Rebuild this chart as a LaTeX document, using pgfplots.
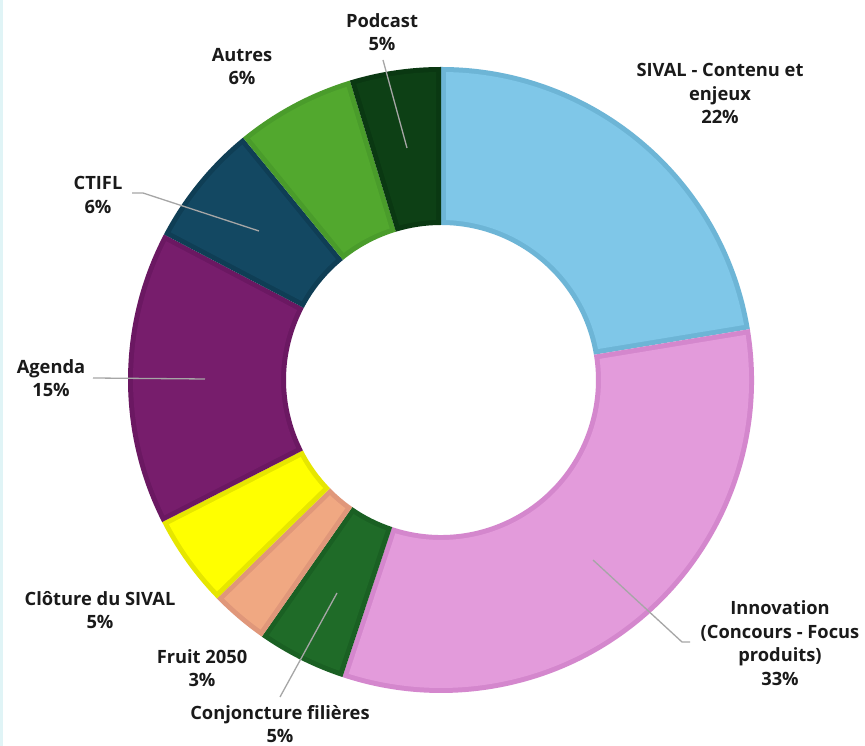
\documentclass[border=0pt]{standalone}
\usepackage{pgfplots}
\pgfplotsset{compat=1.18}
\usepackage{pgfplotstable}
\usepackage{fontspec}
\setmainfont{Open Sans}

\definecolor{sivalF}{HTML}{7FC7E8}
\definecolor{sivalE}{HTML}{6DB5D6}
\definecolor{innovF}{HTML}{E39BDB}
\definecolor{innovE}{HTML}{D487CD}
\definecolor{conjF}{HTML}{1F6B28}
\definecolor{conjE}{HTML}{1A6023}
\definecolor{fruitF}{HTML}{F0A882}
\definecolor{fruitE}{HTML}{E0977A}
\definecolor{clotF}{HTML}{FFFF00}
\definecolor{clotE}{HTML}{E6E600}
\definecolor{agendaF}{HTML}{771D6C}
\definecolor{agendaE}{HTML}{6B1862}
\definecolor{ctiflF}{HTML}{134862}
\definecolor{ctiflE}{HTML}{0F3E55}
\definecolor{autresF}{HTML}{52A82E}
\definecolor{autresE}{HTML}{4A9C2B}
\definecolor{podF}{HTML}{0D4015}
\definecolor{podE}{HTML}{0A3812}
\definecolor{textc}{HTML}{1A1A1A}
\definecolor{leader}{HTML}{A6A6A6}
\definecolor{stripc}{HTML}{E0F4F6}

% shares in percent, clockwise from 12 o'clock
\pgfplotstableread{
value fillc edgec
22.4 sivalF sivalE
32.7 innovF innovE
4.6 conjF conjE
3.0 fruitF fruitE
4.8 clotF clotE
15.2 agendaF agendaE
6.4 ctiflF ctiflE
6.2 autresF autresE
4.7 podF podE
}\slices

\tikzset{lbl/.style={font=\fontsize{18.3}{23.5}\selectfont\bfseries,
    text=textc, align=center, inner sep=0pt}}

\begin{document}
\begin{tikzpicture}
\begin{axis}[
  x=1pt, y=1pt,
  xmin=-441, xmax=424,
  ymin=-366, ymax=380,
  hide axis, clip=false,
]
\fill[white] (rel axis cs:0,0) rectangle (rel axis cs:1,1);
\fill[stripc] (rel axis cs:0,0) rectangle (axis cs:-438,380);

\def\Ro{313}\def\Ri{155}\def\bw{5}
\xdef\angA{90}
\pgfplotsforeachungrouped \idx in {0,...,8}{%
  \pgfplotstablegetelem{\idx}{value}\of\slices \let\val\pgfplotsretval
  \pgfplotstablegetelem{\idx}{fillc}\of\slices \let\fc\pgfplotsretval
  \pgfplotstablegetelem{\idx}{edgec}\of\slices \let\ec\pgfplotsretval
  \pgfmathsetmacro\angB{\angA-3.6*\val}
  % full wedge in edge colour
  \pgfmathsetmacro\xA{\Ro*cos(\angA)}\pgfmathsetmacro\yA{\Ro*sin(\angA)}
  \pgfmathsetmacro\xB{\Ri*cos(\angB)}\pgfmathsetmacro\yB{\Ri*sin(\angB)}
  \edef\cmd{\noexpand\fill[\ec] (axis cs:\xA,\yA)
    arc[start angle=\angA, end angle=\angB, radius=\Ro pt]
    -- (axis cs:\xB,\yB)
    arc[start angle=\angB, end angle=\angA, radius=\Ri pt] -- cycle;}%
  \cmd
  % inset wedge in fill colour
  \pgfmathsetmacro\ro{\Ro-\bw}\pgfmathsetmacro\ri{\Ri+\bw}
  \pgfmathsetmacro\dO{\bw/\ro*57.2958}\pgfmathsetmacro\dI{\bw/\ri*57.2958}
  \pgfmathsetmacro\oA{\angA-\dO}\pgfmathsetmacro\oB{\angB+\dO}
  \pgfmathsetmacro\iA{\angA-\dI}\pgfmathsetmacro\iB{\angB+\dI}
  \pgfmathsetmacro\xA{\ro*cos(\oA)}\pgfmathsetmacro\yA{\ro*sin(\oA)}
  \pgfmathsetmacro\xB{\ri*cos(\iB)}\pgfmathsetmacro\yB{\ri*sin(\iB)}
  \edef\cmd{\noexpand\fill[\fc] (axis cs:\xA,\yA)
    arc[start angle=\oA, end angle=\oB, radius=\ro pt]
    -- (axis cs:\xB,\yB)
    arc[start angle=\iB, end angle=\iA, radius=\ri pt] -- cycle;}%
  \cmd
  \xdef\angA{\angB}%
}

% leader lines
\addplot[leader, line width=1.3pt, no marks] coordinates {(-58,320) (-34,232)};
\addplot[leader, line width=1.3pt, no marks] coordinates {(-309,187) (-298,187) (-182,149)};
\addplot[leader, line width=1.3pt, no marks] coordinates {(-348,2) (-236,1)};
\addplot[leader, line width=1.3pt, no marks] coordinates {(-161,-317) (-104,-213)};
\addplot[leader, line width=1.3pt, no marks] coordinates {(152,-180) (241,-262) (249,-262)};

% labels
\node[lbl] at (axis cs:-59,348) {Podcast\\5\%};
\node[lbl] at (axis cs:-199,313.5) {Autres\\6\%};
\node[lbl] at (axis cs:279,286.5) {SIVAL - Contenu et\\enjeux\\22\%};
\node[lbl] at (axis cs:339,-263) {Innovation\\(Concours - Focus\\produits)\\33\%};
\node[lbl] at (axis cs:-343,185) {CTIFL\\6\%};
\node[lbl] at (axis cs:-390,2) {Agenda\\15\%};
\node[lbl] at (axis cs:-341,-230) {Clôture du SIVAL\\5\%};
\node[lbl] at (axis cs:-239,-288) {Fruit 2050\\3\%};
\node[lbl] at (axis cs:-161,-344) {Conjoncture filières\\5\%};
\end{axis}
\end{tikzpicture}
\end{document}
